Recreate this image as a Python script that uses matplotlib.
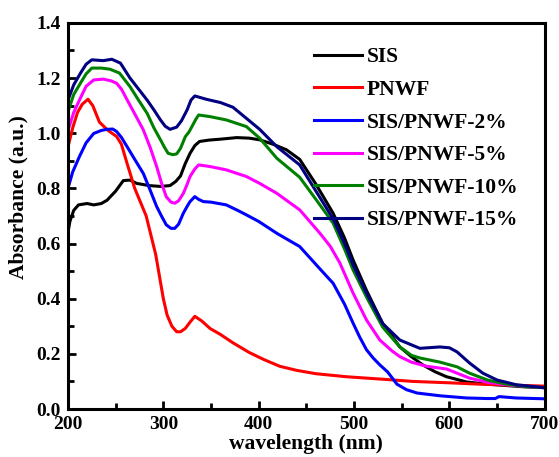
import matplotlib
matplotlib.use("Agg")
import matplotlib.pyplot as plt
from matplotlib.ticker import MultipleLocator

plt.rcParams['font.family'] = ['Liberation Serif', 'DejaVu Serif']
plt.rcParams['font.weight'] = 'bold'

# UV-vis absorbance spectra, wavelength in nm
sis_wl = [200, 202, 206, 211, 220, 227, 235, 241, 250, 258, 265, 272, 285, 297, 307, 313,
          318, 323, 328, 333, 338, 348, 359, 377, 390, 401, 415, 429, 443, 460, 478, 490,
          499, 513, 530, 548, 560, 572, 585, 597, 618, 640, 660, 680, 700]
sis_abs = [0.64, 0.68, 0.72, 0.74, 0.745, 0.74, 0.745, 0.757, 0.79, 0.828, 0.83, 0.818,
           0.81, 0.807, 0.81, 0.825, 0.845, 0.89, 0.927, 0.955, 0.97, 0.975, 0.978, 0.984,
           0.982, 0.976, 0.96, 0.94, 0.905, 0.815, 0.71, 0.62, 0.54, 0.43, 0.31, 0.225,
           0.19, 0.16, 0.135, 0.117, 0.098, 0.09, 0.085, 0.08, 0.078]

pnwf_wl = [200, 205, 210, 215, 221, 226, 233, 242, 251, 256, 262, 270, 276, 282, 287, 292,
           297, 300, 304, 309, 314, 318, 323, 328, 333, 340, 349, 360, 373, 390, 405, 422,
           440, 460, 492, 530, 562, 600, 632, 670, 700]
pnwf_abs = [0.95, 1.02, 1.075, 1.105, 1.123, 1.10, 1.04, 1.01, 0.988, 0.96, 0.89, 0.80,
            0.75, 0.70, 0.63, 0.56, 0.46, 0.40, 0.34, 0.30, 0.28, 0.28, 0.292, 0.315, 0.336,
            0.32, 0.292, 0.27, 0.24, 0.205, 0.18, 0.155, 0.14, 0.128, 0.117, 0.108, 0.10,
            0.095, 0.09, 0.086, 0.083]

p2_wl = [200, 205, 212, 219, 227, 235, 241, 247, 251, 256, 262, 270, 279, 286, 293, 298,
         303, 308, 312, 316, 321, 325, 328, 333, 337, 342, 350, 366, 378, 387, 400, 419,
         443, 465, 478, 490, 499, 506, 513, 520, 527, 535, 545, 555, 566, 590, 618, 640,
         648, 652, 670, 700]
p2_abs = [0.80, 0.86, 0.915, 0.965, 0.999, 1.01, 1.014, 1.015, 1.006, 0.985, 0.951, 0.905,
          0.854, 0.795, 0.734, 0.70, 0.668, 0.655, 0.655, 0.67, 0.71, 0.735, 0.752, 0.77,
          0.76, 0.752, 0.75, 0.74, 0.72, 0.704, 0.68, 0.637, 0.589, 0.505, 0.456, 0.38,
          0.311, 0.26, 0.215, 0.185, 0.16, 0.135, 0.09, 0.07, 0.058, 0.048, 0.04, 0.038,
          0.038, 0.045, 0.04, 0.037]

p5_wl = [200, 206, 212, 219, 227, 237, 245, 251, 256, 262, 270, 279, 286, 293, 298, 303,
         308, 312, 316, 321, 325, 328, 333, 337, 349, 366, 387, 401, 419, 443, 464, 475,
         485, 499, 513, 527, 540, 548, 560, 576, 597, 621, 640, 660, 680, 700]
p5_abs = [1.01, 1.075, 1.12, 1.17, 1.193, 1.196, 1.19, 1.181, 1.16, 1.121, 1.07, 1.012,
          0.95, 0.879, 0.82, 0.77, 0.75, 0.746, 0.755, 0.782, 0.815, 0.843, 0.87, 0.885,
          0.879, 0.867, 0.843, 0.818, 0.782, 0.722, 0.638, 0.59, 0.53, 0.42, 0.323, 0.25,
          0.21, 0.19, 0.17, 0.155, 0.145, 0.112, 0.097, 0.088, 0.082, 0.077]

p10_wl = [200, 206, 213, 219, 225, 235, 244, 254, 265, 274, 283, 290, 297, 301, 305, 310,
          314, 318, 323, 327, 330, 334, 337, 349, 366, 387, 401, 419, 443, 460, 478, 490,
          499, 513, 530, 548, 560, 569, 590, 608, 621, 640, 660, 680, 700]
p10_abs = [1.078, 1.14, 1.181, 1.215, 1.236, 1.236, 1.232, 1.218, 1.169, 1.12, 1.072, 1.02,
           0.976, 0.95, 0.927, 0.922, 0.925, 0.945, 0.987, 1.005, 1.024, 1.05, 1.066, 1.06,
           1.048, 1.024, 0.982, 0.909, 0.84, 0.76, 0.674, 0.58, 0.504, 0.406, 0.297, 0.225,
           0.195, 0.185, 0.17, 0.153, 0.13, 0.105, 0.09, 0.082, 0.077]

p15_wl = [200, 206, 213, 219, 225, 237, 246, 255, 265, 274, 283, 290, 297, 302, 307, 314,
          319, 325, 329, 333, 345, 360, 373, 387, 401, 419, 443, 460, 478, 490, 499, 513,
          530, 548, 569, 590, 600, 608, 621, 635, 650, 670, 700]
p15_abs = [1.12, 1.175, 1.217, 1.25, 1.266, 1.263, 1.268, 1.254, 1.2, 1.16, 1.12, 1.085,
           1.048, 1.025, 1.014, 1.022, 1.045, 1.085, 1.12, 1.135, 1.123, 1.111, 1.094, 1.054,
           1.014, 0.951, 0.885, 0.79, 0.69, 0.60, 0.522, 0.42, 0.31, 0.25, 0.22, 0.225, 0.222,
           0.207, 0.167, 0.13, 0.105, 0.088, 0.077]

series = [
    ("SIS", sis_wl, sis_abs, "black"),
    ("PNWF", pnwf_wl, pnwf_abs, "#ff0000"),
    ("SIS/PNWF-2%", p2_wl, p2_abs, "#0000ff"),
    ("SIS/PNWF-5%", p5_wl, p5_abs, "#ff00ff"),
    ("SIS/PNWF-10%", p10_wl, p10_abs, "#008000"),
    ("SIS/PNWF-15%", p15_wl, p15_abs, "#000080"),
]

fig = plt.figure(figsize=(5.59, 4.57), dpi=100)
ax = fig.add_axes([0.1216, 0.105, 0.853, 0.845])

for name, wl, ab, col in series:
    ax.plot(wl, ab, color=col, lw=2.2, label=name)

ax.set_xlim(200, 700)
ax.set_ylim(0.0, 1.4)
ax.xaxis.set_major_locator(MultipleLocator(100))
ax.xaxis.set_minor_locator(MultipleLocator(50))
ax.yaxis.set_major_locator(MultipleLocator(0.2))
ax.yaxis.set_minor_locator(MultipleLocator(0.1))
ax.yaxis.set_major_formatter(lambda v, p: f"{v:.1f}")

for sp in ax.spines.values():
    sp.set_linewidth(2.2)
ax.tick_params(which='both', direction='in', width=2, labelsize=14, pad=5)
ax.tick_params(which='major', length=6)
ax.tick_params(which='minor', length=4)
for lab in ax.get_xticklabels() + ax.get_yticklabels():
    lab.set_fontweight('bold')

ax.set_xlabel("wavelength (nm)", fontsize=15.5, fontweight='bold', labelpad=1)
ax.set_ylabel("Absorbance (a.u.)", fontsize=15.5, fontweight='bold')
ax.yaxis.set_label_coords(-0.082, 0.55)

ax.legend(loc='upper left', bbox_to_anchor=(0.543, 0.92), bbox_transform=fig.transFigure,
          frameon=False, borderpad=0, handlelength=2.2, handletextpad=0.25,
          labelspacing=0.58, prop={'weight': 'bold', 'size': 15.5})

fig.savefig("out.png", dpi=100)
